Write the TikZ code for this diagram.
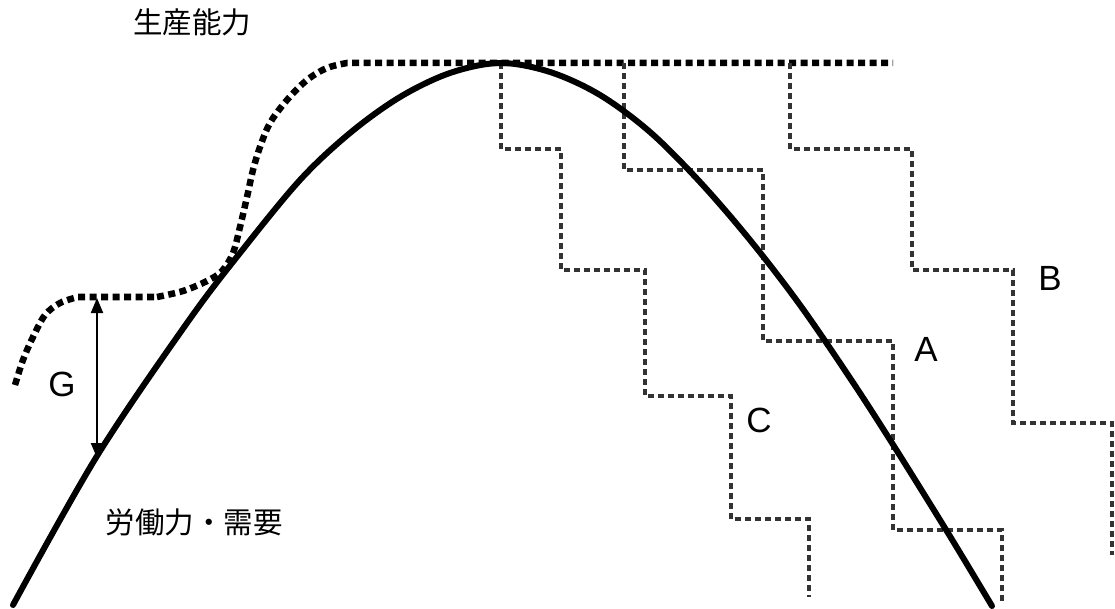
\documentclass[tikz,border=0pt]{standalone}
\usepackage{fontspec}
\setmainfont{Liberation Sans}
\newfontfamily\cjk{Noto Sans CJK JP}
\usetikzlibrary{arrows.meta}
\begin{document}
\begin{tikzpicture}[x=1pt,y=-1pt,
  solidcurve/.style={line width=6pt,black,line cap=round},
  capcurve/.style={line width=6.5pt,black,dash pattern=on 7pt off 4.5pt},
  stair/.style={line width=4.5pt,black!80,dash pattern=on 6pt off 4pt},
  lab/.style={font=\fontsize{35}{35}\selectfont,inner sep=0pt},
  jlab/.style={font=\cjk\fontsize{29.5}{29.5}\selectfont,inner sep=0pt},
  gaptip/.tip={Triangle[length=15pt,width=12pt]}]
\useasboundingbox (0,0) rectangle (1115,609);
% capacity curve (dotted)
\draw[capcurve] plot[smooth,tension=0.55] coordinates {(15,385) (23,360) (33,337) (45,315) (60,303) (78,297)} -- (157,297)
  plot[smooth,tension=0.55] coordinates {(157,297) (183,291) (207,281) (222,271) (233,253) (240,227) (247,197) (253,170) (260,147) (270,123) (287,100) (307,80) (327,68) (347,63)} -- (893,63);
% staircases
\draw[stair] (501,63) -- (501,149) -- (561,149) -- (561,270) -- (645,270) -- (645,396) -- (731,396) -- (731,519) -- (809,519) -- (809,597);
\draw[stair] (624,63) -- (624,170) -- (763,170) -- (763,341) -- (893,341) -- (893,530) -- (1002,530) -- (1002,602);
\draw[stair] (790,63) -- (790,149) -- (912,149) -- (912,270) -- (1013,270) -- (1013,423) -- (1112,423) -- (1112,555);
% labour demand curve
\draw[solidcurve] plot[smooth,tension=0.55] coordinates {(13,605) (97,456) (187,323) (240,253) (300,180) (350,133) (400,97) (450,73) (500,63) (550,72) (600,95) (650,132) (700,182) (750,240) (800,305) (850,378) (892,443) (948,533) (992,606)};
% gap arrow
\coordinate (gtop) at (97,298);
\coordinate (gbot) at (97,458);
\draw[line width=2pt,gaptip-gaptip] (gtop) -- (gbot);
% labels
\node[jlab] (cap) at (192,22) {生産能力};
\node[jlab] (dem) at (194,522) {労働力・需要};
\node[lab] (g) at (62,384) {G};
\node[lab] (a) at (926,349) {A};
\node[lab] (b) at (1050,278) {B};
\node[lab] (c) at (759,420) {C};
\end{tikzpicture}
\end{document}
